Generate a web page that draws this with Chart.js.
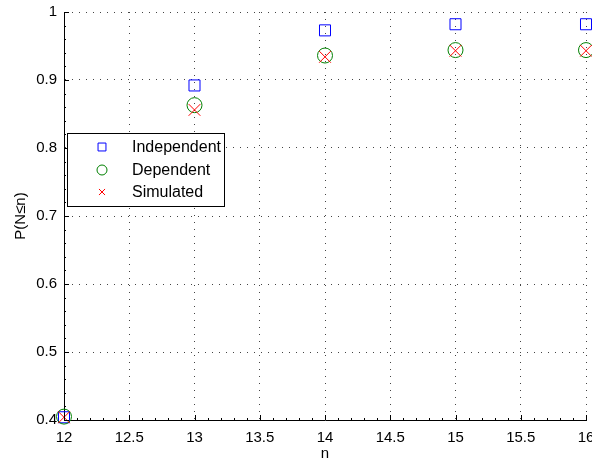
<!DOCTYPE html>
<html>
<head>
<meta charset="utf-8">
<script src="https://cdn.jsdelivr.net/npm/chart.js@4/dist/chart.umd.min.js"></script>
<style>
  html, body { margin: 0; padding: 0; background: #fff; overflow: hidden; }
  #wrap { width: 592px; height: 464px; overflow: hidden; position: relative; }
  canvas { display: block; }
</style>
</head>
<body>
<div id="wrap"><canvas id="c" width="620" height="464" style="width:620px;height:464px"></canvas></div>
<script>
// n values and cumulative probabilities P(N<=n)
const nValues = [12, 13, 14, 15, 16];
const independent = [0.404, 0.892, 0.973, 0.982, 0.982];
const dependent = [0.405, 0.863, 0.936, 0.944, 0.944];
const simulated = [0.404, 0.856, 0.934, 0.943, 0.943];
const seriesNames = ['Independent', 'Dependent', 'Simulated'];
const xTicks = [12, 12.5, 13, 13.5, 14, 14.5, 15, 15.5, 16];
const yTicks = [0.4, 0.5, 0.6, 0.7, 0.8, 0.9, 1];

const FONT = 'Liberation Sans, Arial, Helvetica, sans-serif';

const toPoints = (vals) => nValues.map((n, i) => ({ x: n, y: vals[i] }));

// MATLAB-style inward ticks (major + minor) drawn on the axes
const inwardTicks = {
  id: 'inwardTicks',
  afterDatasetsDraw(chart) {
    const { ctx, chartArea: a, scales: { x, y } } = chart;
    ctx.save();
    ctx.strokeStyle = '#000';
    ctx.lineWidth = 1;
    ctx.beginPath();
    for (let k = 0; k <= 40; k++) {
      const v = 12 + k * 0.1;
      const px = Math.round(x.getPixelForValue(v)) + 0.5;
      const len = (k % 5 === 0) ? 5 : 2;
      ctx.moveTo(px, a.bottom); ctx.lineTo(px, a.bottom - len);
    }
    for (let k = 0; k <= 30; k++) {
      const v = 0.4 + k * 0.02;
      const py = Math.round(y.getPixelForValue(v)) + 0.5;
      const len = (k % 5 === 0) ? 5 : 2;
      ctx.moveTo(a.left, py); ctx.lineTo(a.left + len, py);
    }
    ctx.stroke();
    ctx.restore();
  }
};

// Boxed legend placed inside the plot area
const boxLegend = {
  id: 'boxLegend',
  afterDraw(chart) {
    const { ctx } = chart;
    const bx = 67.5, by = 133.5, bw = 157, bh = 73;
    ctx.save();
    ctx.fillStyle = '#fff';
    ctx.fillRect(bx, by, bw, bh);
    ctx.strokeStyle = '#000';
    ctx.lineWidth = 1;
    ctx.strokeRect(bx, by, bw, bh);
    const rows = [147, 170, 192];
    const legendRadius = [5.6, 5, 4.3];
    chart.data.datasets.forEach((ds, i) => {
      const yy = rows[i];
      ctx.strokeStyle = ds.borderColor;
      ctx.fillStyle = 'rgba(0,0,0,0)';
      ctx.lineWidth = 1;
      Chart.helpers.drawPoint(ctx, {
        pointStyle: ds.pointStyle, radius: legendRadius[i], rotation: 0, borderWidth: 1
      }, 102, yy);
      ctx.fillStyle = '#000';
      ctx.font = '16px ' + FONT;
      ctx.textAlign = 'left';
      ctx.textBaseline = 'middle';
      ctx.fillText(ds.label, 132, yy + 1);
    });
    ctx.restore();
  }
};

new Chart(document.getElementById('c'), {
  type: 'scatter',
  data: {
    datasets: [
      { label: seriesNames[0], data: toPoints(independent), pointStyle: 'rect', pointRadius: 7.8,
        borderColor: '#0000ff', backgroundColor: 'rgba(0,0,0,0)', borderWidth: 1, order: 3, clip: false },
      { label: seriesNames[1], data: toPoints(dependent), pointStyle: 'circle', pointRadius: 7.5,
        borderColor: '#008000', backgroundColor: 'rgba(0,0,0,0)', borderWidth: 1, order: 2, clip: false },
      { label: seriesNames[2], data: toPoints(simulated), pointStyle: 'crossRot', pointRadius: 8.3,
        borderColor: '#ff0000', backgroundColor: 'rgba(0,0,0,0)', borderWidth: 1, order: 1, clip: false }
    ]
  },
  options: {
    responsive: false,
    animation: false,
    devicePixelRatio: 1,
    layout: { padding: { left: 0, top: 12, right: 34, bottom: 0 } },
    plugins: { legend: { display: false }, tooltip: { enabled: false } },
    scales: {
      x: {
        type: 'linear', min: 12, max: 16,
        afterBuildTicks: (s) => { s.ticks = xTicks.map(v => ({ value: v })); },
        afterFit: (s) => { s.height = 44; s.paddingLeft = 0; s.paddingRight = 0; },
        ticks: { color: '#000', font: { family: FONT, size: 15 }, padding: 9, maxRotation: 0,
                 callback: (v) => String(v) },
        grid: { display: true, color: '#444', lineWidth: 1, drawTicks: false, tickLength: 0 },
        border: { display: true, color: '#000', width: 1, dash: [1, 6] },
        title: { display: true, text: 'n', color: '#000', font: { family: FONT, size: 15 },
                 padding: { top: 0, bottom: 1 } }
      },
      y: {
        type: 'linear', min: 0.4, max: 1,
        afterBuildTicks: (s) => { s.ticks = yTicks.map(v => ({ value: v })); },
        afterFit: (s) => { s.width = 64; s.paddingTop = 0; s.paddingBottom = 0; },
        ticks: { color: '#000', font: { family: FONT, size: 15 }, padding: 7,
                 callback: (v) => String(Math.round(v * 10) / 10) },
        grid: { display: true, color: '#444', lineWidth: 1, drawTicks: false, tickLength: 0 },
        border: { display: true, color: '#000', width: 1, dash: [1, 6] },
        title: { display: true, text: 'P(N≤n)', color: '#000', font: { family: FONT, size: 15 },
                 padding: { top: 12, bottom: 0 } }
      }
    }
  },
  plugins: [inwardTicks, boxLegend]
});
</script>
</body>
</html>
